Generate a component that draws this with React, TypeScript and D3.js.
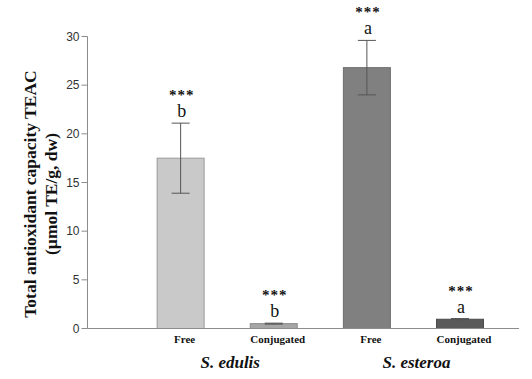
import React from "react";
import * as d3 from "d3";

const categories = ["Free", "Conjugated", "Free", "Conjugated"];
const species = ["S. edulis", "S. edulis", "S. esteroa", "S. esteroa"];
const values = [17.5, 0.5, 26.8, 0.95];
const errors = [3.6, 0.05, 2.8, 0.07];
const letters = ["b", "b", "a", "a"];
const signif = ["***", "***", "***", "***"];
const yTicks = [0, 5, 10, 15, 20, 25, 30];
const speciesGroups = ["S. edulis", "S. esteroa"];

const fills = ["#c9c9c9", "#a6a6a6", "#808080", "#5a5a5a"];
const strokes = ["#9a9a9a", "#8a8a8a", "#6e6e6e", "#4a4a4a"];

const W = 532;
const H = 379;
const serif = "'Liberation Serif', 'Times New Roman', serif";

export default function App() {
  const keys = ["", ...categories.map((c, i) => `${species[i]}-${c}-${i}`)];
  const x = d3.scalePoint<string>().domain(keys).range([87.5, 460]);
  const y = d3.scaleLinear().domain([0, 30]).range([328.5, 36.5]);
  const bw = 47;
  const x0 = 87.5;

  const groupCenters = speciesGroups.map((s) => {
    const idx = species.map((sp, i) => (sp === s ? i : -1)).filter((i) => i >= 0);
    return d3.mean(idx.map((i) => x(keys[i + 1]) as number)) as number;
  });

  return (
    <svg width={W} height={H} style={{ position: "absolute", left: 0, top: 0, background: "#fff" }}>
      {/* y axis */}
      <line x1={x0} x2={x0} y1={y(30)} y2={y(0)} stroke="#8c8c8c" strokeWidth={1} />
      {yTicks.map((t) => (
        <g key={t}>
          <line x1={x0 - 6} x2={x0} y1={y(t)} y2={y(t)} stroke="#8c8c8c" />
          <text
            x={x0 - 8}
            y={y(t)}
            dy="0.35em"
            textAnchor="end"
            fontFamily="'Liberation Sans', Arial, sans-serif"
            fontSize={12}
            fill="#333"
          >
            {t}
          </text>
        </g>
      ))}
      {/* y title */}
      <g transform={`translate(36, 194) rotate(-90)`}>
        <text textAnchor="middle" fontFamily={serif} fontWeight="bold" fontSize={17.5} fill="#111">
          Total antioxidant capacity TEAC
        </text>
        <text y={21} textAnchor="middle" fontFamily={serif} fontWeight="bold" fontSize={17.5} fill="#111">
          (µmol TE/g, dw)
        </text>
      </g>

      {/* bars */}
      {values.map((v, i) => {
        const cx = x(keys[i + 1]) as number;
        const top = y(v + errors[i]);
        const bot = y(v - errors[i]);
        return (
          <g key={i}>
            <rect
              x={cx - bw / 2}
              y={y(v)}
              width={bw}
              height={y(0) - y(v)}
              fill={fills[i]}
              stroke={strokes[i]}
              strokeWidth={1}
            />
            <line x1={cx} x2={cx} y1={top} y2={bot} stroke="#555" strokeWidth={1} />
            <line x1={cx - 9} x2={cx + 9} y1={top} y2={top} stroke="#555" strokeWidth={1} />
            <line x1={cx - 9} x2={cx + 9} y1={bot} y2={bot} stroke="#555" strokeWidth={1} />
            <text x={cx + 1} y={top - 6} textAnchor="middle" fontFamily={serif} fontSize={18} fill="#111">
              {letters[i]}
            </text>
            <text
              x={cx + 1}
              y={top - 23}
              textAnchor="middle"
              fontFamily={serif}
              fontWeight="bold"
              fontSize={15}
              letterSpacing={1}
              fill="#111"
            >
              {signif[i]}
            </text>
            <text
              x={cx + 4}
              y={y(0) + 14}
              textAnchor="middle"
              fontFamily={serif}
              fontWeight="bold"
              fontSize={11}
              fill="#111"
            >
              {categories[i]}
            </text>
          </g>
        );
      })}

      {/* baseline */}
      <line x1={x0} x2={519} y1={y(0)} y2={y(0)} stroke="#8c8c8c" strokeWidth={1} />

      {speciesGroups.map((s, i) => (
        <text
          key={s}
          x={groupCenters[i] + 3}
          y={368}
          textAnchor="middle"
          fontFamily={serif}
          fontWeight="bold"
          fontStyle="italic"
          fontSize={17}
          fill="#111"
        >
          {s}
        </text>
      ))}
    </svg>
  );
}
